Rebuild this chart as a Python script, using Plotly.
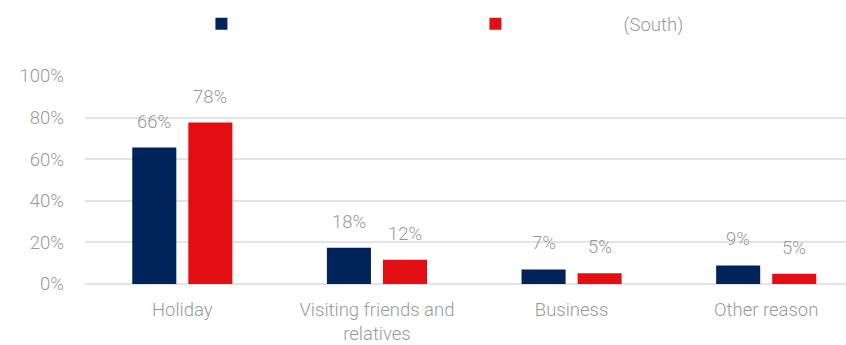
import plotly.graph_objects as go

categories = ["Holiday", "Visiting friends and<br>relatives", "Business", "Other reason"]
series1_name = "\u00a0"
series2_name = "\u00a0" * 24 + "(South)"
series1_values = [0.656, 0.174, 0.070, 0.089]
series2_values = [0.776, 0.117, 0.052, 0.049]
series1_labels = ["66%", "18%", "7%", "9%"]
series2_labels = ["78%", "12%", "5%", "5%"]
y_ticks = [0, 0.2, 0.4, 0.6, 0.8, 1.0]
y_tick_labels = ["0%", "20%", "40%", "60%", "80%", "100%"]

NAVY = "#002359"
RED = "#E30E12"
GREY = "#9A9A9A"
FONT = "Roboto"
FS = 18.5

fig = go.Figure()
fig.add_trace(go.Bar(
    x=categories, y=series1_values, name=series1_name,
    marker=dict(color=NAVY, line=dict(width=0)),
))
fig.add_trace(go.Bar(
    x=categories, y=series2_values, name=series2_name,
    marker=dict(color=RED, line=dict(width=0)),
))

# data labels above each bar (bar slot is 56 px wide; labels sit at slot centres)
for vals, lbls, shift in [(series1_values, series1_labels, -28), (series2_values, series2_labels, 28)]:
    for c, v, t in zip(categories, vals, lbls):
        fig.add_annotation(
            x=c, y=v, text=t, showarrow=False, xshift=shift, yshift=13,
            yanchor="bottom", xanchor="center",
            font=dict(color=GREY, size=FS, family=FONT, weight=300),
        )

fig.update_layout(
    width=846, height=345,
    margin=dict(l=85, r=0, t=76, b=61, pad=0),
    paper_bgcolor="white", plot_bgcolor="white",
    barmode="group", bargap=0.424, bargroupgap=0.214,
    font=dict(family=FONT, color=GREY, size=FS, weight=300),
    showlegend=True,
    legend=dict(
        orientation="h", x=0.153, xanchor="left", y=0.93, yanchor="middle",
        yref="container", entrywidth=229, entrywidthmode="pixels",
        font=dict(family=FONT, color=GREY, size=FS, weight=300),
        bgcolor="rgba(0,0,0,0)", itemclick=False,
    ),
    xaxis=dict(
        range=[-0.5, 3.41], showgrid=False, showline=False, ticks="",
        ticklabelstandoff=12,
        tickfont=dict(family=FONT, color=GREY, size=FS, weight=300),
        fixedrange=True,
    ),
    yaxis=dict(
        range=[0, 1.0], tickvals=y_ticks, ticktext=y_tick_labels,
        showgrid=True, gridcolor="#E3E3E3", gridwidth=2,
        zeroline=True, zerolinecolor="#E3E3E3", zerolinewidth=2,
        showline=False, ticks="", ticklabelstandoff=20,
        tickfont=dict(family=FONT, color=GREY, size=FS, weight=300),
        fixedrange=True,
    ),
)

fig.write_html("out.html", config={"displayModeBar": False})
